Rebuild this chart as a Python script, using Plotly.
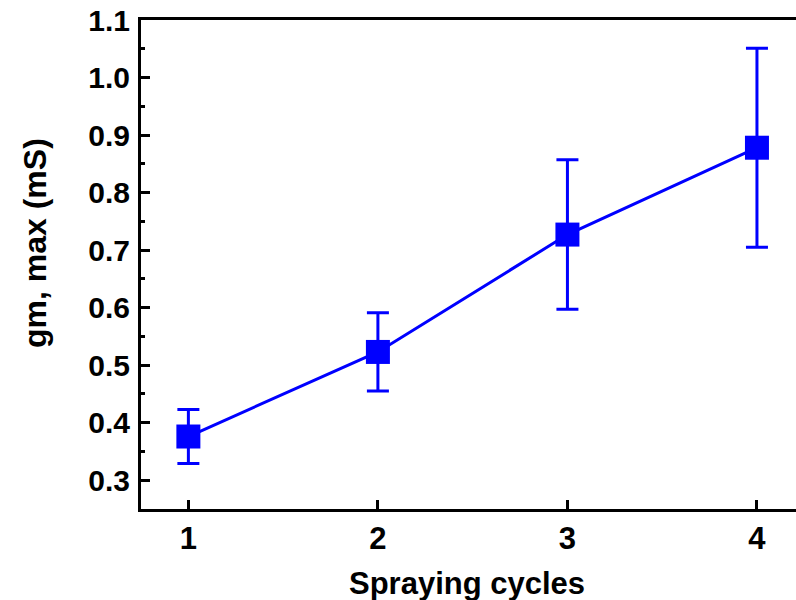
import plotly.graph_objects as go

cycles = [1, 2, 3, 4]
gm_max = [0.376, 0.523, 0.727, 0.878]
gm_err = [0.047, 0.068, 0.130, 0.173]
y_ticks = [0.3, 0.4, 0.5, 0.6, 0.7, 0.8, 0.9, 1.0, 1.1]
y_ticklabels = ["0.3", "0.4", "0.5", "0.6", "0.7", "0.8", "0.9", "1.0", "1.1"]

BLUE = "#0000FF"
FONT = "Liberation Sans, Arial, sans-serif"

fig = go.Figure()
fig.add_trace(go.Scatter(
    x=cycles, y=gm_max,
    mode="lines+markers",
    line=dict(color=BLUE, width=3),
    marker=dict(symbol="square", size=24, color=BLUE),
    error_y=dict(type="data", array=gm_err, visible=True, color=BLUE, thickness=3, width=11),
    showlegend=False,
))

fig.update_layout(
    width=796, height=600,
    margin=dict(l=141, r=0, t=20, b=91),
    paper_bgcolor="white", plot_bgcolor="white",
    font=dict(family=FONT, color="black"),
    xaxis=dict(
        range=[0.75, 4.206], tickvals=cycles, ticktext=[str(c) for c in cycles],
        showgrid=False, zeroline=False,
        showline=True, linecolor="black", linewidth=3, mirror=True,
        ticks="inside", ticklen=9, tickwidth=3, tickcolor="black",
        tickfont=dict(size=31, family=FONT, color="black", weight="bold"),
        ticklabelstandoff=0,
    ),
    yaxis=dict(
        range=[0.25, 1.1], tickvals=y_ticks, ticktext=y_ticklabels,
        showgrid=False, zeroline=False,
        showline=True, linecolor="black", linewidth=3, mirror=False,
        ticks="inside", ticklen=9, tickwidth=3, tickcolor="black",
        minor=dict(ticks="inside", ticklen=4, tickwidth=3, tickcolor="black", dtick=0.05, tick0=0.25, showgrid=False),
        tickfont=dict(size=30, family=FONT, color="black", weight="bold"),
        ticklabelstandoff=2,
    ),
    annotations=[
        dict(text="Spraying cycles", xref="paper", yref="paper", x=(467-141)/655, y=-(583-509)/489,
             xanchor="center", yanchor="middle", showarrow=False,
             font=dict(size=31, family=FONT, color="black", weight="bold")),
        dict(text="gm, max (mS)", xref="paper", yref="paper", x=-(141-35)/655, y=(509-243)/489,
             xanchor="center", yanchor="middle", showarrow=False, textangle=-90,
             font=dict(size=32, family=FONT, color="black", weight="bold")),
    ],
)

fig.write_html("out.html")
